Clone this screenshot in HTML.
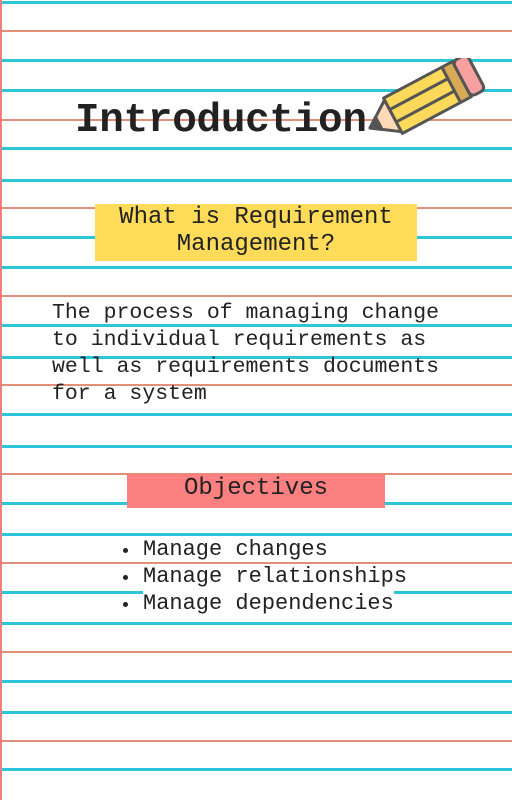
<!DOCTYPE html>
<html><head><meta charset="utf-8"><style>
html,body{margin:0;padding:0}
body{width:512px;height:800px;position:relative;overflow:hidden;background:#fff;font-family:"Liberation Mono",monospace;color:#222}
.l{position:absolute;left:0;width:512px}
.b{height:3px;background:#2cc5d9}
.r{height:2px;background:#d9735a;opacity:.8}
.t{position:absolute;white-space:pre;font-weight:bold}
.row{position:absolute;left:120px;height:22px;font-size:22px;line-height:22px;white-space:pre}
.row span{background:#fff}
.row i{position:absolute;left:3px;top:9px;width:5px;height:5px;border-radius:50%;background:#222}
</style></head><body>
<div id="lines"></div>
<div style="position:absolute;left:0;top:0;width:2px;height:800px;background:#f08080"></div>
<div class="t" style="left:75px;top:98px;font-size:41px;letter-spacing:-0.3px">Introduction</div>
<svg style="position:absolute;left:360px;top:58px" width="140" height="90" viewBox="0 0 140 90">
<g transform="translate(10,70) rotate(-28)" stroke="#555" stroke-width="3" stroke-linejoin="round">
<polygon points="0,0 26,-18 26,18" fill="#fdd9b5"/>
<polygon points="0,0 10,-7 10,7" fill="#555"/>
<rect x="26" y="-20" width="66" height="40" fill="#fcd95a"/>
<line x1="26" y1="-7" x2="92" y2="-7"/><line x1="26" y1="7" x2="92" y2="7"/>
<rect x="92" y="-20" width="12" height="40" fill="#d9aa55"/>
<rect x="104" y="-20" width="16" height="40" rx="5" fill="#f7a0a0"/>
</g></svg>
<div style="position:absolute;left:95px;top:204px;width:322px;height:57px;background:#fedc5a"></div>
<div class="t" style="left:95px;top:204px;width:322px;text-align:center;font-size:24px;line-height:27px;font-weight:normal">What is Requirement
Management?</div>
<div class="t" style="left:52px;top:300px;font-size:21.5px;line-height:27px;font-weight:normal">The process of managing change
to individual requirements as
well as requirements documents
for a system</div>
<div style="position:absolute;left:127px;top:474px;width:258px;height:34px;background:#fd8080"></div>
<div class="t" style="left:127px;top:474px;width:258px;text-align:center;font-size:24px;line-height:30px;font-weight:normal">Objectives</div>
<div class="row" style="top:539px"><i></i><span style="margin-left:23px">Manage changes</span></div>
<div class="row" style="top:566px"><i></i><span style="margin-left:23px">Manage relationships</span></div>
<div class="row" style="top:593px"><i></i><span style="margin-left:23px">Manage dependencies</span></div>
<script>
const blueY=[2,60,90,148,180,237,267,325,357,414,446,503,534,592,623,681,712,769];
const redY=[31,120,208,296,385,474,563,652,741];
const c=document.getElementById('lines');
blueY.forEach(y=>{const d=document.createElement('div');d.className='l b';d.style.top=(y-1)+'px';


c.appendChild(d);});
redY.forEach(y=>{const d=document.createElement('div');d.className='l r';d.style.top=(y-1)+'px';


c.appendChild(d);});
</script>
</body></html>
